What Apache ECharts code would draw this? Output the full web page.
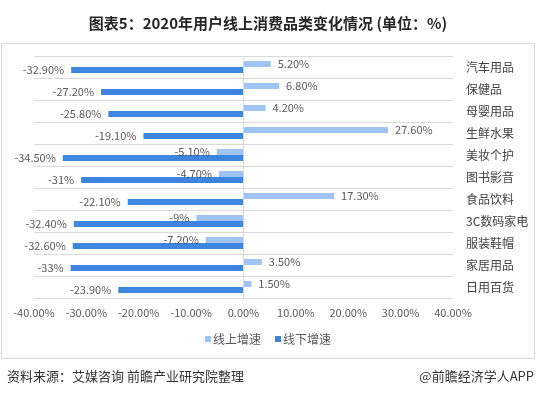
<!DOCTYPE html>
<html>
<head>
<meta charset="utf-8">
<script src="https://cdn.jsdelivr.net/npm/echarts@6/dist/echarts.min.js"></script>
<style>
html,body{margin:0;padding:0;background:#fff;}
#c{width:536px;height:399px;}
</style>
</head>
<body>
<div id="c"></div>
<script>
var categories = ['汽车用品','保健品','母婴用品','生鲜水果','美妆个护','图书影音','食品饮料','3C数码家电','服装鞋帽','家居用品','日用百货'];
var onlineGrowth = [5.2, 6.8, 4.2, 27.6, -5.1, -4.7, 17.3, -9, -7.2, 3.5, 1.5];
var offlineGrowth = [-32.9, -27.2, -25.8, -19.1, -34.5, -31, -22.1, -32.4, -32.6, -33, -23.9];
var seriesNames = ['线上增速', '线下增速'];
var xTicks = [-40, -30, -20, -10, 0, 10, 20, 30, 40];

var FONT = '"Noto Sans CJK SC", "Noto Sans", sans-serif';
var LIGHT = '#9fc3f3';
var DARK = '#3d85df';

function fmt(v) {
  return (Number.isInteger(v) ? String(v) : v.toFixed(2)) + '%';
}
function toData(arr) {
  return arr.map(function (v) {
    return { value: v, label: { position: v < 0 ? 'left' : 'right' } };
  });
}
var labelStyle = {
  show: true,
  distance: 7,
  fontSize: 11,
  color: '#595959',
  fontFamily: FONT,
  formatter: function (p) { return fmt(p.value); }
};

var chart = echarts.init(document.getElementById('c'), null, { renderer: 'canvas' });
chart.setOption({
  animation: false,
  backgroundColor: '#fff',
  textStyle: { fontFamily: FONT },
  title: {
    text: '图表5：2020年用户线上消费品类变化情况 (单位：%)',
    left: 'center',
    top: 11,
    textStyle: { fontSize: 15, fontWeight: 'bold', color: '#262626', fontFamily: FONT }
  },
  legend: {
    data: seriesNames,
    bottom: 49,
    left: 'center',
    icon: 'rect',
    itemWidth: 6,
    itemHeight: 6,
    itemGap: 14,
    textStyle: { fontSize: 12, color: '#595959', fontFamily: FONT, padding: [0, 0, 0, -3] }
  },
  grid: { left: 34, right: 83, top: 56, bottom: 101, containLabel: false },
  xAxis: {
    type: 'value',
    min: xTicks[0],
    max: xTicks[xTicks.length - 1],
    interval: 10,
    axisLine: { show: false },
    axisTick: { show: false },
    splitLine: { show: false },
    axisLabel: {
      margin: 9,
      fontSize: 11,
      color: '#595959',
      fontFamily: FONT,
      formatter: function (v) { return v.toFixed(2) + '%'; }
    }
  },
  yAxis: {
    type: 'category',
    data: categories,
    inverse: true,
    position: 'right',
    axisLine: { show: false },
    axisTick: { show: false },
    splitLine: { show: true, lineStyle: { color: '#d9d9d9', width: 1 } },
    axisLabel: { margin: 13, fontSize: 12, color: '#404040', fontFamily: FONT }
  },
  series: [
    {
      name: seriesNames[0],
      type: 'bar',
      data: toData(onlineGrowth),
      barWidth: 6,
      barGap: '0%',
      itemStyle: { color: LIGHT },
      label: labelStyle,
      markLine: {
        silent: true,
        symbol: 'none',
        label: { show: false },
        lineStyle: { color: '#d9d9d9', type: 'solid', width: 1 },
        data: [{ xAxis: 0 }]
      }
    },
    {
      name: seriesNames[1],
      type: 'bar',
      data: toData(offlineGrowth),
      barWidth: 6,
      barGap: '0%',
      itemStyle: { color: DARK },
      label: labelStyle
    }
  ],
  graphic: [
    {
      type: 'rect',
      shape: { x: 1.5, y: 43.5, width: 533, height: 315 },
      style: { fill: 'none', stroke: '#d9d9d9', lineWidth: 1 },
      z: -1
    },
    {
      type: 'text',
      left: 7,
      top: 370,
      style: { text: '资料来源：艾媒咨询 前瞻产业研究院整理', font: '13px ' + FONT, fill: '#333' }
    },
    {
      type: 'text',
      right: 2,
      top: 370,
      style: { text: '@前瞻经济学人APP', font: '13px ' + FONT, fill: '#333' }
    }
  ]
});
</script>
</body>
</html>
